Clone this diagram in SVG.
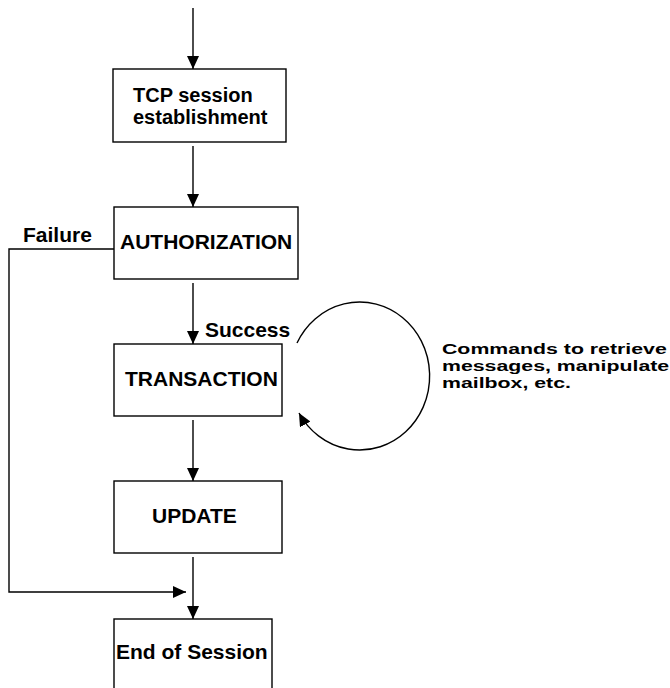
<svg xmlns="http://www.w3.org/2000/svg" width="670" height="688" viewBox="0 0 670 688">
  <style>
    .box { fill: #ffffff; stroke: #000000; stroke-width: 1.4; }
    .lbl { font-family: "Liberation Sans", Arial, sans-serif; font-weight: bold; font-size: 21px; fill: #000000; }
    .note { font-family: "Liberation Sans", Arial, sans-serif; font-weight: bold; font-size: 15px; fill: #000000; }
    .conn { fill: none; stroke: #000000; stroke-width: 1.4; }
  </style>
  <defs>
    <marker id="arrow" markerUnits="userSpaceOnUse" markerWidth="13" markerHeight="12" refX="13" refY="6" orient="auto">
      <path d="M0,0 L13,6 L0,12 z" fill="#000000"/>
    </marker>
  </defs>
  <rect width="670" height="688" fill="#ffffff"/>

  <g id="connectors">
    <line class="conn" x1="193" y1="8" x2="193" y2="69" marker-end="url(#arrow)"/>
    <line class="conn" x1="193" y1="146" x2="193" y2="207" marker-end="url(#arrow)"/>
    <line class="conn" x1="193" y1="283" x2="193" y2="344" marker-end="url(#arrow)"/>
    <line class="conn" x1="193" y1="420" x2="193" y2="481" marker-end="url(#arrow)"/>
    <line class="conn" x1="193" y1="557" x2="193" y2="619" marker-end="url(#arrow)"/>
    <polyline class="conn" points="114,249 9,249 9,592 186,592" marker-end="url(#arrow)"/>
    <path class="conn" d="M297,343 A70,74 0 1 1 299,413" marker-end="url(#arrow)"/>
    <text class="lbl" x="23" y="242">Failure</text>
    <text class="lbl" x="205" y="337">Success</text>
    <g id="loop-note">
      <text class="note" transform="translate(442,354) scale(1.421,1)">Commands to retrieve</text>
      <text class="note" transform="translate(442,371) scale(1.421,1)">messages, manipulate</text>
      <text class="note" transform="translate(442,388) scale(1.421,1)">mailbox, etc.</text>
    </g>
  </g>

  <g id="tcp">
    <rect class="box" x="113" y="69" width="173" height="73"/>
    <text class="lbl" x="133" y="102" style="font-size:20px">TCP session</text>
    <text class="lbl" x="133" y="124" style="font-size:20px">establishment</text>
  </g>
  <g id="authorization">
    <rect class="box" x="114" y="207" width="184" height="72"/>
    <text class="lbl" x="120" y="249">AUTHORIZATION</text>
  </g>
  <g id="transaction">
    <rect class="box" x="114" y="344" width="168" height="72"/>
    <text class="lbl" x="125" y="386">TRANSACTION</text>
  </g>
  <g id="update">
    <rect class="box" x="114" y="481" width="168" height="72"/>
    <text class="lbl" x="152" y="523">UPDATE</text>
  </g>
  <g id="end">
    <rect class="box" x="114" y="619" width="158" height="90"/>
    <text class="lbl" x="116" y="659">End of Session</text>
  </g>
</svg>
